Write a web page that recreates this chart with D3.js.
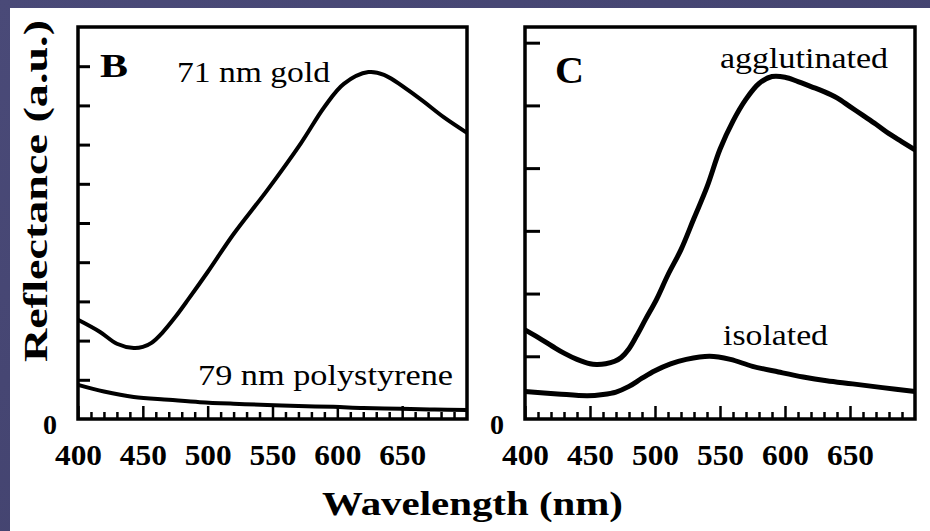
<!DOCTYPE html>
<html>
<head>
<meta charset="utf-8">
<script src="https://cdn.jsdelivr.net/npm/d3@7/dist/d3.min.js"></script>
<style>
  body { margin: 0; overflow: hidden; }
  text { font-family: "Liberation Serif", "Times New Roman", serif; fill: #000; }
</style>
</head>
<body>
<script>
// wavelength ticks (nm)
var majorTicks = [400, 450, 500, 550, 600, 650];
var minorTicks = [410, 420, 430, 440, 460, 470, 480, 490, 510, 520, 530, 540, 560, 570, 580, 590,
                  610, 620, 630, 640, 660, 670, 680, 690];

// panel B, reflectance in tick units
var goldWl  = [400, 417, 430, 443, 450, 457, 465, 475, 485, 500, 520, 546, 572, 590, 605, 624, 636, 662, 682, 700];
var goldVal = [2.53, 2.22, 1.92, 1.81, 1.84, 1.95, 2.2, 2.6, 3.05, 3.75, 4.72, 5.84, 7.04, 7.96, 8.55, 8.85, 8.78, 8.21, 7.7, 7.3];
var psWl  = [400, 420, 443, 470, 494, 520, 546, 570, 597, 620, 649, 675, 700];
var psVal = [0.87, 0.7, 0.56, 0.49, 0.43, 0.39, 0.36, 0.33, 0.31, 0.28, 0.26, 0.24, 0.23];
var yTicksB = [1, 2, 3, 4, 5, 6, 7, 8, 9];

// panel C
var aggWl  = [400, 410, 421, 430, 440, 450, 455, 462, 469, 474, 480, 486, 493, 501, 510, 520, 530, 540, 550,
              560, 570, 580, 590, 600, 610, 620, 630, 640, 650, 660, 670, 680, 690, 700];
var aggVal = [1.42, 1.3, 1.16, 1.05, 0.95, 0.88, 0.87, 0.88, 0.92, 0.98, 1.12, 1.33, 1.6, 1.9, 2.3, 2.7, 3.2, 3.7, 4.3,
              4.75, 5.1, 5.35, 5.46, 5.45, 5.38, 5.3, 5.22, 5.12, 4.98, 4.84, 4.7, 4.55, 4.42, 4.29];
var isoWl  = [400, 425, 448, 460, 470, 480, 490, 500, 512, 524, 542, 558, 575, 595, 614, 632, 652, 675, 700];
var isoVal = [0.44, 0.40, 0.37, 0.39, 0.43, 0.52, 0.65, 0.77, 0.88, 0.95, 1.0, 0.95, 0.84, 0.75, 0.67, 0.61, 0.56, 0.5, 0.44];
var yTicksC = [1, 2, 3, 4, 5, 6];

var W = 930, H = 531;
var svg = d3.select("body").append("svg").attr("width", W).attr("height", H);

// slide background
var grad = svg.append("defs").append("linearGradient").attr("id", "bg")
    .attr("x1", 0).attr("y1", 0).attr("x2", 1).attr("y2", 1);
grad.append("stop").attr("offset", 0).attr("stop-color", "#4a4a78");
grad.append("stop").attr("offset", 1).attr("stop-color", "#3f3f6a");
svg.append("rect").attr("width", W).attr("height", H).attr("fill", "url(#bg)");
svg.append("rect").attr("x", 10).attr("y", 8).attr("width", W - 10).attr("height", H - 8).attr("fill", "#fff");

function panel(opt) {
  var g = svg.append("g");
  var x = d3.scaleLinear().domain([400, 700]).range([opt.x0, opt.x1]);
  var y = d3.scaleLinear().domain([0, opt.ymax]).range([419, 27]);

  // minor x ticks
  g.append("g").attr("transform", "translate(0,419)")
    .call(d3.axisBottom(x).tickValues(minorTicks).tickSize(-7).tickFormat(""))
    .call(function(a) { a.select(".domain").remove(); a.selectAll("line").attr("stroke-width", 2.5); });
  // major x ticks + labels
  var ax = g.append("g").attr("transform", "translate(0,419)")
    .call(d3.axisBottom(x).tickValues(majorTicks).tickSize(-13).tickPadding(46));
  ax.select(".domain").remove();
  ax.selectAll("line").attr("stroke-width", 2.5);
  ax.selectAll("text").attr("font-weight", "bold")
    .attr("font-size", 29).attr("fill", "#000").attr("dy", 0)
    .attr("textLength", 47).attr("lengthAdjust", "spacingAndGlyphs");

  // y ticks
  var ay = g.append("g").attr("transform", "translate(" + opt.x0 + ",0)")
    .call(d3.axisLeft(y).tickValues(opt.yTicks).tickSize(-opt.tick).tickFormat(""));
  ay.select(".domain").remove();
  ay.selectAll("line").attr("stroke-width", 3);

  g.append("text").attr("x", opt.x0 - 28).attr("y", y(0) + 15).attr("text-anchor", "middle")
    .attr("font-weight", "bold").attr("font-size", 28).text("0");

  // frame
  g.append("rect").attr("x", opt.x0).attr("y", 27).attr("width", opt.x1 - opt.x0).attr("height", 392)
    .attr("fill", "none").attr("stroke", "#000").attr("stroke-width", 3.5);

  var line = d3.line().x(function(d) { return x(d[0]); }).y(function(d) { return y(d[1]); })
    .curve(d3.curveCatmullRom.alpha(0.5));
  opt.series.forEach(function(s) {
    g.append("path").datum(d3.zip(s.wl, s.val)).attr("d", line)
      .attr("fill", "none").attr("stroke", "#000").attr("stroke-width", s.w).attr("stroke-linejoin", "round");
  });

  opt.labels.forEach(function(l) {
    g.append("text").attr("x", l.x).attr("y", l.y).attr("font-size", l.size)
      .attr("font-weight", l.bold ? "bold" : "normal")
      .attr("textLength", l.len).attr("lengthAdjust", "spacingAndGlyphs").text(l.text);
  });
}

panel({
  x0: 78, x1: 467, ymax: 10, yTicks: yTicksB, tick: 12,
  series: [{ wl: goldWl, val: goldVal, w: 4 }, { wl: psWl, val: psVal, w: 4 }],
  labels: [
    { text: "B", x: 100, y: 77, size: 34, bold: true, len: 28 },
    { text: "71 nm gold", x: 177, y: 82, size: 30, len: 153 },
    { text: "79 nm polystyrene", x: 198, y: 385, size: 30, len: 255 }
  ]
});

panel({
  x0: 525, x1: 915, ymax: 6.25, yTicks: yTicksC, tick: 15,
  series: [{ wl: aggWl, val: aggVal, w: 5 }, { wl: isoWl, val: isoVal, w: 5 }],
  labels: [
    { text: "C", x: 555, y: 83, size: 37, bold: true, len: 29 },
    { text: "agglutinated", x: 720, y: 68, size: 30, len: 168 },
    { text: "isolated", x: 723, y: 345, size: 29, len: 105 }
  ]
});

// axis titles
svg.append("text").attr("x", 322).attr("y", 515).attr("font-weight", "bold").attr("font-size", 33)
  .attr("textLength", 301).attr("lengthAdjust", "spacingAndGlyphs").text("Wavelength (nm)");
svg.append("text").attr("transform", "translate(47,191) rotate(-90)").attr("text-anchor", "middle")
  .attr("font-weight", "bold").attr("font-size", 34)
  .attr("textLength", 342).attr("lengthAdjust", "spacingAndGlyphs").text("Reflectance (a.u.)");
</script>
</body>
</html>
